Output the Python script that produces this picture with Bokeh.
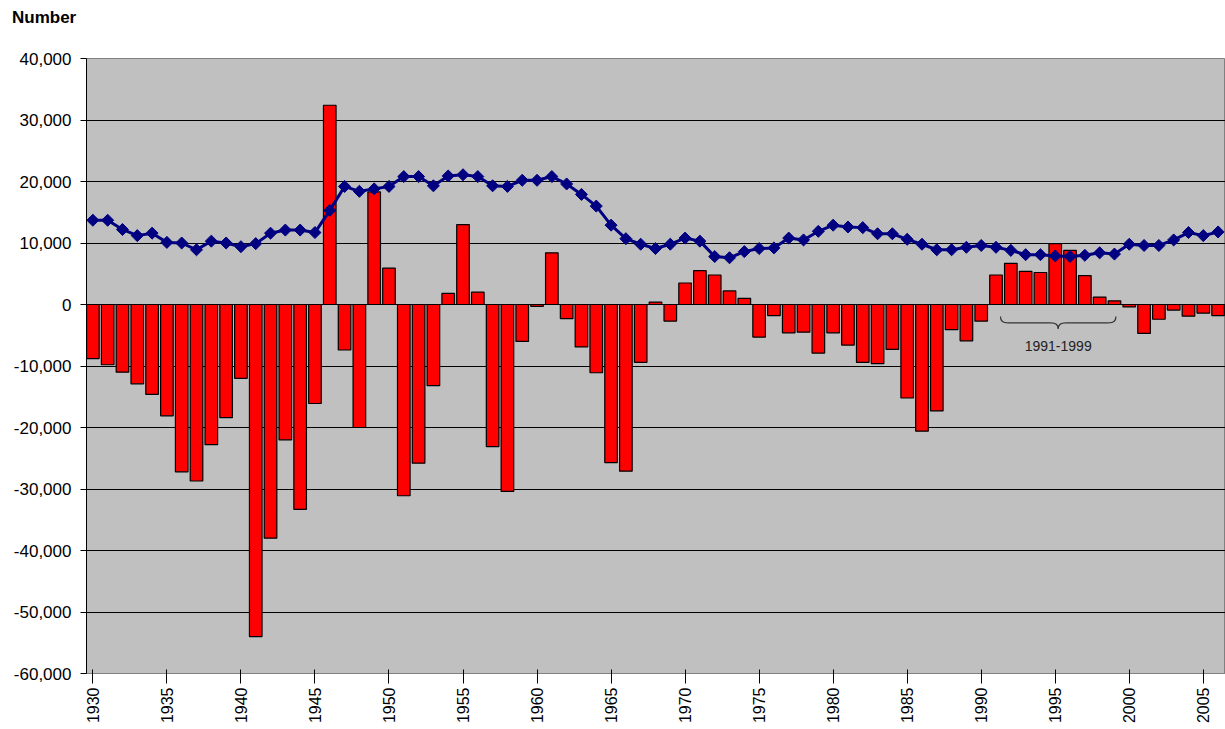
import numpy as np
from bokeh.plotting import figure
from bokeh.models import Range1d, FixedTicker, NumeralTickFormatter, ColumnDataSource, Div
from bokeh.layouts import column
from bokeh.core.properties import value
from bokeh.embed import file_html
from bokeh.resources import INLINE

years = list(range(1930, 2007))

net_change = [
    -8800, -9800, -11000, -12900, -14600, -18100, -27200, -28700, -22800, -18400,
    -12000, -54000, -38000, -22000, -33300, -16100, 32400, -7400, -20000, 18300,
    5900, -31100, -25800, -13200, 1800, 13000, 2000, -23100, -30400, -6000,
    -300, 8400, -2300, -6900, -11100, -25700, -27100, -9400, 400, -2700,
    3500, 5500, 4800, 2200, 1000, -5300, -1800, -4600, -4500, -7900,
    -4600, -6600, -9400, -9600, -7300, -15200, -20600, -17300, -4100, -5900,
    -2700, 4800, 6700, 5400, 5200, 9900, 8800, 4700, 1200, 600,
    -400, -4700, -2400, -900, -1900, -1400, -1800,
]

line_series = [
    13700, 13700, 12200, 11200, 11600, 10100, 10000, 8900, 10300, 10000,
    9400, 9900, 11600, 12100, 12100, 11700, 15300, 19200, 18400, 18800,
    19200, 20800, 20800, 19300, 20900, 21100, 20800, 19300, 19200, 20200,
    20200, 20800, 19600, 17900, 16000, 12900, 10700, 9800, 9100, 9800,
    10800, 10300, 7800, 7600, 8600, 9100, 9200, 10800, 10500, 11900,
    12900, 12600, 12500, 11500, 11500, 10600, 9800, 8900, 8900, 9300,
    9600, 9300, 8800, 8100, 8100, 7900, 7800, 8000, 8400, 8200,
    9800, 9600, 9600, 10500, 11700, 11200, 11800,
]

x_tick_years = list(range(1930, 2006, 5))
y_ticks = list(range(-60000, 40001, 10000))

annot_start = 1991
annot_end = 1999
annot_text = "1991-1999"
title_text = "Number"

FONT = "Liberation Sans"

src = ColumnDataSource(dict(year=years, net=net_change, line=line_series))

caption = Div(
    text=title_text, width=1225, height=28, margin=0,
    styles={"font-family": FONT, "font-size": "17px", "font-weight": "bold",
            "color": "black", "padding-left": "12px", "padding-top": "8px",
            "line-height": "20px", "box-sizing": "border-box"},
)

p = figure(
    width=1225, height=701,
    x_range=Range1d(1929.57, 2006.5),
    y_range=Range1d(-60000, 40000),
    output_backend="svg", toolbar_location=None,
    min_border_left=86, min_border_right=0, min_border_top=30, min_border_bottom=56,
    background_fill_color="#C0C0C0", border_fill_color="white",
)
p.outline_line_color = "#808080"

p.xgrid.visible = False
p.ygrid.ticker = FixedTicker(ticks=y_ticks)
p.ygrid.grid_line_color = "black"
p.ygrid.grid_line_width = 1

p.vbar(x="year", top="net", bottom=0, width=0.85, source=src,
       fill_color="#FF0000", line_color="black", line_width=1.2)

p.line(x="year", y="line", source=src, line_color="#000080", line_width=3)
p.scatter(x="year", y="line", source=src, marker="square", angle=np.pi / 4,
          size=8.5, fill_color="#000080", line_color="#000080")

# brace annotation
bx0 = annot_start + 0.3
bx1 = annot_end + 0.1
bxc = (bx0 + bx1) / 2
ytop, ymid, ybot = -1950, -3000, -3950
d = 0.5
p.quadratic(x0=[bx0, bxc - d, bxc + d, bx1], y0=[ytop, ymid, ymid, ytop],
            x1=[bx0 + d, bxc, bxc, bx1 - d], y1=[ymid, ybot, ybot, ymid],
            cx=[bx0, bxc, bxc, bx1], cy=[ymid, ymid, ymid, ymid],
            line_color="#333333", line_width=1.2)
p.segment(x0=[bx0 + d, bxc + d], y0=[ymid, ymid], x1=[bxc - d, bx1 - d], y1=[ymid, ymid],
          line_color="#333333", line_width=1.2)
p.text(x=[bxc], y=[-6700], text=[annot_text], text_font=value(FONT),
       text_font_size="14px", text_align="center", text_baseline="middle",
       text_color="#222222")

xa = p.xaxis[0]
xa.ticker = FixedTicker(ticks=x_tick_years)
xa.major_label_orientation = np.pi / 2
xa.major_label_text_font = FONT
xa.major_label_text_font_size = "16px"
xa.major_label_text_color = "black"
xa.major_label_standoff = 4
xa.major_tick_in = 4
xa.major_tick_out = 10
xa.major_tick_line_color = "black"
xa.minor_tick_line_color = None
xa.axis_line_color = "#808080"

ya = p.yaxis[0]
ya.ticker = FixedTicker(ticks=y_ticks)
ya.formatter = NumeralTickFormatter(format="0,0")
ya.major_label_text_font = FONT
ya.major_label_text_font_size = "17px"
ya.major_label_text_color = "black"
ya.major_label_standoff = 9
ya.major_tick_in = 0
ya.major_tick_out = 6
ya.major_tick_line_color = "black"
ya.minor_tick_line_color = None
ya.axis_line_color = "black"

layout = column(caption, p, spacing=0)
open("out.html", "w").write(file_html(layout, INLINE))
